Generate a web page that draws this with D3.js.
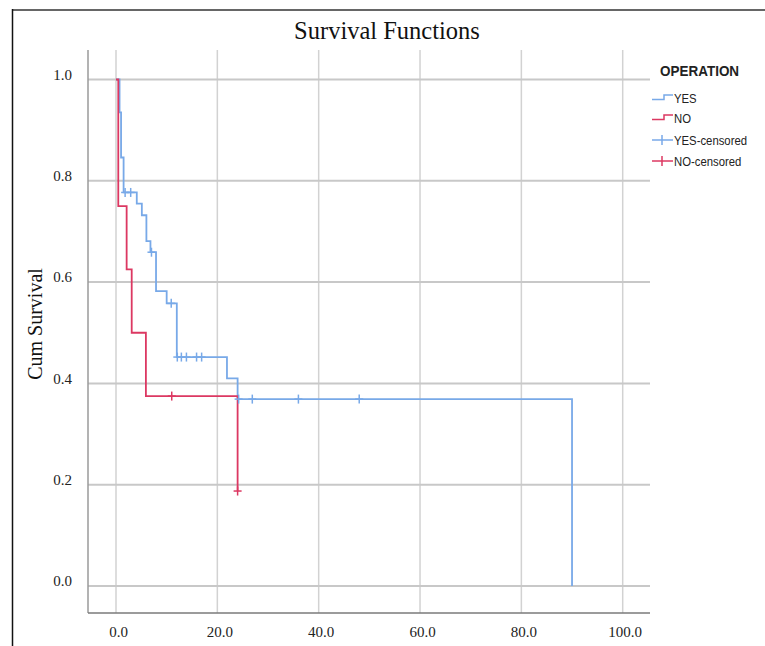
<!DOCTYPE html>
<html>
<head>
<meta charset="utf-8">
<script src="https://cdn.jsdelivr.net/npm/d3@7/dist/d3.min.js"></script>
<style>
    body { margin: 0; background: #fff; }
    #chart svg { display: block; }
    .axis text { font-family: "Liberation Serif", "Times New Roman", serif; fill: #222; }
    .legend text { font-family: "Liberation Sans", Arial, sans-serif; fill: #222; }
</style>
</head>
<body>
<div id="chart"></div>
<script>
// Kaplan-Meier estimates (time, survival after the event)
const yesEventTimes = [0.7, 1.0, 1.5, 4.1, 5.1, 6.0, 6.8, 7.9, 10.0, 12.0, 21.9, 24.0, 90.0];
const yesSurvival   = [0.935, 0.846, 0.777, 0.755, 0.732, 0.681, 0.659, 0.582, 0.558, 0.452, 0.410, 0.369, 0.0];
const yesCensored   = [1.8, 2.9, 7.0, 10.9, 12.1, 12.9, 13.9, 15.9, 16.9, 24.2, 26.9, 36.0, 48.0];

const noEventTimes = [0.45, 2.1, 3.1, 5.9, 24.0];
const noSurvival   = [0.75, 0.625, 0.5, 0.375, 0.1875];
const noCensored   = [11.0, 24.0];

const groups = ["YES", "NO"];
const xTicks = [0, 20, 40, 60, 80, 100];
const yTicks = [0, 0.2, 0.4, 0.6, 0.8, 1.0];
const legendLabels = ["YES", "NO", "YES-censored", "NO-censored"];

class SurvivalChart {
    constructor(parentElement) {
        let vis = this;
        vis.parentElement = parentElement;
        vis.width = 765;
        vis.height = 646;

        // plot frame in page pixels
        vis.plot = { left: 88, right: 650, top: 50, bottom: 613 };

        vis.colorScale = d3.scaleOrdinal()
            .domain(groups)
            .range(["#78a9e8", "#dc3862"]);

        vis.initVis();
    }

    initVis() {
        let vis = this;

        vis.svg = d3.select(`#${vis.parentElement}`)
            .append("svg")
            .attr("width", vis.width)
            .attr("height", vis.height);

        // scales: x=0 sits at 116px, x=100 at 622.7px
        vis.x = d3.scaleLinear().domain([0, 100]).range([116, 622.7]);
        vis.y = d3.scaleLinear().domain([0, 1]).range([586, 79.5]);

        // outer frame of the scanned figure
        vis.svg.append("line")
            .attr("x1", 12).attr("x2", vis.width)
            .attr("y1", 10).attr("y2", 10)
            .attr("stroke", "#666").attr("stroke-width", 2);
        vis.svg.append("line")
            .attr("x1", 12.5).attr("x2", 12.5)
            .attr("y1", 9).attr("y2", vis.height)
            .attr("stroke", "#111").attr("stroke-width", 1.5);

        vis.svg.append("text")
            .attr("x", 387)
            .attr("y", 39)
            .attr("text-anchor", "middle")
            .style("font-family", "'Liberation Serif', 'Times New Roman', serif")
            .style("font-size", "24.5px")
            .style("fill", "#111")
            .text("Survival Functions");

        vis.svg.append("text")
            .attr("transform", "translate(42,324) rotate(-90)")
            .attr("text-anchor", "middle")
            .style("font-family", "'Liberation Serif', 'Times New Roman', serif")
            .style("font-size", "20px")
            .style("fill", "#111")
            .text("Cum Survival");

        vis.gridGroup = vis.svg.append("g").attr("class", "grid");
        vis.curveGroup = vis.svg.append("g").attr("class", "curves");
        vis.legend = vis.svg.append("g").attr("class", "legend");

        vis.wrangleData();
    }

    wrangleData() {
        let vis = this;

        // value of the step function at time t
        const survAt = (times, surv, t) => {
            let s = 1;
            times.forEach((tt, i) => { if (tt <= t) s = surv[i]; });
            return s;
        };

        vis.series = [
            { key: "YES", times: yesEventTimes, surv: yesSurvival, censored: yesCensored },
            { key: "NO", times: noEventTimes, surv: noSurvival, censored: noCensored }
        ].map(d => ({
            key: d.key,
            points: [{ t: 0, s: 1 }].concat(d.times.map((t, i) => ({ t: t, s: d.surv[i] }))),
            marks: d.censored.map(t => ({ t: t, s: survAt(d.times, d.surv, t) }))
        }));

        vis.updateVis();
    }

    updateVis() {
        let vis = this;
        const p = vis.plot;

        // vertical grid lines
        vis.gridGroup.selectAll(".vgrid")
            .data(xTicks)
            .join("line")
            .attr("class", "vgrid")
            .attr("x1", d => vis.x(d)).attr("x2", d => vis.x(d))
            .attr("y1", p.top).attr("y2", p.bottom)
            .attr("stroke", "#d2d2d2").attr("stroke-width", 1.5);

        // horizontal grid lines
        vis.gridGroup.selectAll(".hgrid")
            .data(yTicks)
            .join("line")
            .attr("class", "hgrid")
            .attr("x1", p.left).attr("x2", p.right)
            .attr("y1", d => vis.y(d)).attr("y2", d => vis.y(d))
            .attr("stroke", "#c8c8c8").attr("stroke-width", 2);

        // axis lines
        vis.gridGroup.append("line")
            .attr("x1", p.left).attr("x2", p.left)
            .attr("y1", p.top).attr("y2", p.bottom)
            .attr("stroke", "#9a9a9a").attr("stroke-width", 1.5);
        vis.gridGroup.append("line")
            .attr("x1", p.left).attr("x2", p.right)
            .attr("y1", p.bottom).attr("y2", p.bottom)
            .attr("stroke", "#7a7a7a").attr("stroke-width", 1.5);

        // tick labels via d3 axes
        const xAxis = d3.axisBottom(vis.x)
            .tickValues(xTicks)
            .tickFormat(d3.format(".1f"))
            .tickSize(0)
            .tickPadding(13);
        const yAxis = d3.axisLeft(vis.y)
            .tickValues(yTicks)
            .tickFormat(d3.format(".1f"))
            .tickSize(0)
            .tickPadding(16);

        vis.svg.append("g")
            .attr("class", "x-axis axis")
            .attr("transform", `translate(2,${p.bottom})`)
            .call(xAxis)
            .call(g => g.select(".domain").remove())
            .selectAll("text")
            .style("font-size", "15px");

        vis.svg.append("g")
            .attr("class", "y-axis axis")
            .attr("transform", `translate(${p.left},0)`)
            .call(yAxis)
            .call(g => g.select(".domain").remove())
            .selectAll("text")
            .attr("dy", "-0.02em")
            .style("font-size", "15px");

        // survival step curves
        const line = d3.line()
            .x(d => vis.x(d.t))
            .y(d => vis.y(d.s))
            .curve(d3.curveStepAfter);

        vis.curveGroup.selectAll(".km")
            .data(vis.series)
            .join("path")
            .attr("class", "km")
            .attr("fill", "none")
            .attr("stroke", d => vis.colorScale(d.key))
            .attr("stroke-width", 1.8)
            .attr("d", d => line(d.points));

        // censored "+" marks
        const marks = vis.curveGroup.selectAll(".censor")
            .data(vis.series.flatMap(d => d.marks.map(m => ({ key: d.key, t: m.t, s: m.s }))))
            .join("g")
            .attr("class", "censor")
            .attr("transform", d => `translate(${vis.x(d.t)},${vis.y(d.s)})`)
            .attr("stroke", d => vis.colorScale(d.key))
            .attr("stroke-width", 1.5);
        marks.append("line").attr("x1", 0).attr("x2", 0).attr("y1", -4.5).attr("y2", 4.5);
        marks.append("line").attr("x1", -4).attr("x2", 4).attr("y1", 0).attr("y2", 0);

        vis.updateLegend();
    }

    updateLegend() {
        let vis = this;

        // narrow sans look: squeeze regular sans horizontally
        vis.legend.append("text")
            .attr("transform", "translate(660,76) scale(0.87,1)")
            .style("font-size", "15.5px")
            .style("font-weight", "bold")
            .text("OPERATION");

        const rowY = [98.5, 118.5, 140, 161];

        const items = vis.legend.selectAll(".legend-item")
            .data(legendLabels)
            .join("g")
            .attr("class", "legend-item")
            .attr("transform", (d, i) => `translate(652,${rowY[i]})`);

        items.each(function(d) {
            const g = d3.select(this);
            const key = d.split("-")[0];
            const color = vis.colorScale(key);
            if (d.includes("censored")) {
                g.append("line").attr("x1", 0).attr("x2", 21).attr("y1", 0).attr("y2", 0)
                    .attr("stroke", color).attr("stroke-width", 1.5);
                g.append("line").attr("x1", 10).attr("x2", 10).attr("y1", -5).attr("y2", 5)
                    .attr("stroke", color).attr("stroke-width", 1.5);
            } else {
                g.append("path")
                    .attr("d", "M0,1H12V-3.5H21")
                    .attr("fill", "none")
                    .attr("stroke", color).attr("stroke-width", 1.5);
            }
            g.append("text")
                .attr("transform", "translate(22,4.8) scale(0.84,1)")
                .style("font-size", "13.5px")
                .text(d);
        });
    }
}

new SurvivalChart("chart");
</script>
</body>
</html>
